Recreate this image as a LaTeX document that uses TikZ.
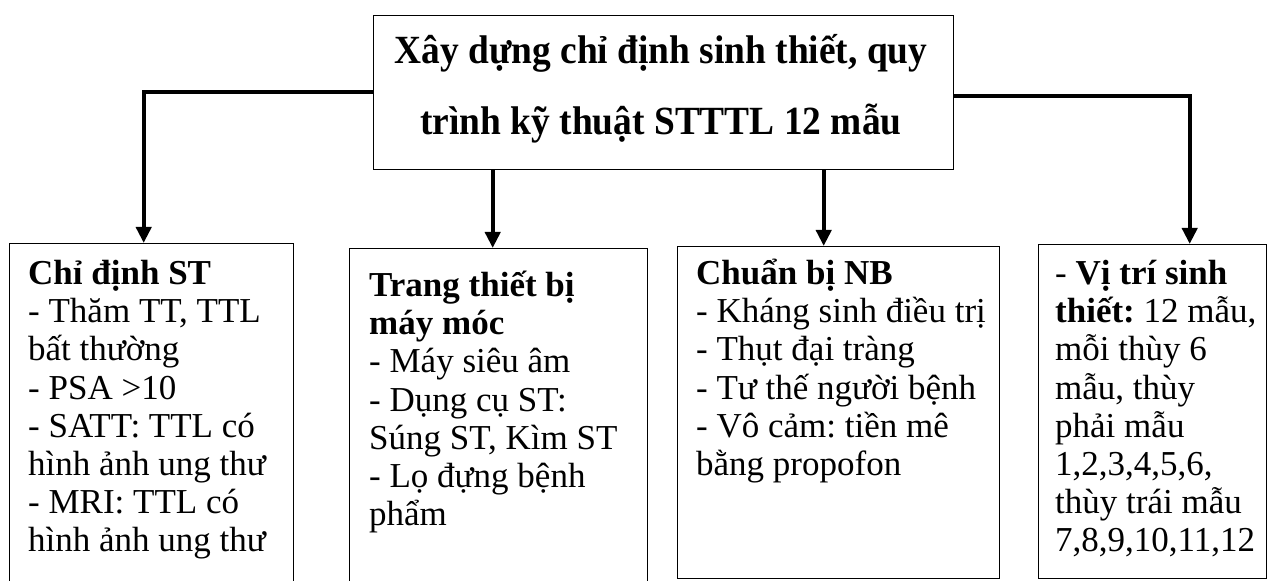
\documentclass[tikz,border=0pt]{standalone}
\usepackage{fontspec}
\setmainfont{Liberation Serif}
\newfontfamily\headfont[FakeStretch=0.935]{Liberation Serif}
\usetikzlibrary{arrows.meta,calc}
\begin{document}
\frenchspacing
\begin{tikzpicture}[x=1bp,y=-1bp,
  box/.style={draw, line width=1.4bp, rectangle, inner sep=0, anchor=north west},
  conn/.style={line width=4bp, -{Triangle[width=15bp,length=16bp]}},
  body/.style={inner sep=0, anchor=base west, font=\fontsize{35bp}{38bp}\selectfont},
  headtext/.style={inner sep=0, anchor=base,
    font=\headfont\fontsize{40bp}{71bp}\selectfont\bfseries},
]
\useasboundingbox (0,0) rectangle (1273,581);
\clip (0,0) rectangle (1273,581);
% top box
\node[box, minimum width=580bp, minimum height=154bp] (top) at (373,15) {};
\node[headtext] (toptext) at (661,64)
  {\parbox[t]{570bp}{\centering Xây dựng chỉ định sinh thiết, quy\\trình kỹ thuật STTTL 12 mẫu}};
% bottom boxes
\node[box, minimum width=284bp, minimum height=400bp] (b1) at (9,243) {};
\node[box, minimum width=298bp, minimum height=400bp] (b2) at (349,248) {};
\node[box, minimum width=322bp, minimum height=332bp] (b3) at (677,246) {};
\node[box, minimum width=228bp, minimum height=334bp] (b4) at (1038,244) {};
% texts
\node[body] (t1) at (28,285) {\parbox[t]{270bp}{\raggedright
  \textbf{Chỉ định ST}\\
  - Thăm TT, TTL\\
  bất thường\\
  - PSA >10\\
  - SATT: TTL có\\
  hình ảnh ung thư\\
  - MRI: TTL có\\
  hình ảnh ung thư}};
\node[body] (t2) at (369,297) {\parbox[t]{280bp}{\raggedright
  \textbf{Trang thiết bị}\\
  \textbf{máy móc}\\
  - Máy siêu âm\\
  - Dụng cụ ST:\\
  Súng ST, Kìm ST\\
  - Lọ đựng bệnh\\
  phẩm}};
\node[body] (t3) at (696,285) {\parbox[t]{300bp}{\raggedright
  \textbf{Chuẩn bị NB}\\
  - Kháng sinh điều trị\\
  - Thụt đại tràng\\
  - Tư thế người bệnh\\
  - Vô cảm: tiền mê\\
  bằng propofon}};
\node[body] (t4) at (1055,285) {\parbox[t]{215bp}{\raggedright
  - \textbf{Vị trí sinh}\\
  \textbf{thiết:} 12 mẫu,\\
  mỗi thùy 6\\
  mẫu, thùy\\
  phải mẫu\\
  1,2,3,4,5,6,\\
  thùy trái mẫu\\
  7,8,9,10,11,12}};
% arrow targets
\path ($(b1.north)+(-8,0)$) coordinate (p1);
\path ($(b2.north)+(-6,0)$) coordinate (p2);
\path ($(b3.north)+(-15,0)$) coordinate (p3);
\path ($(b4.north)+(37,0)$) coordinate (p4);
% connectors
\draw[conn] ([yshift=1bp]top.west) -| (p1);
\draw[conn] (top.south -| p2) -- (p2);
\draw[conn] (top.south -| p3) -- (p3);
\draw[conn] ([yshift=-3bp]top.east) -| (p4);
\end{tikzpicture}
\end{document}
